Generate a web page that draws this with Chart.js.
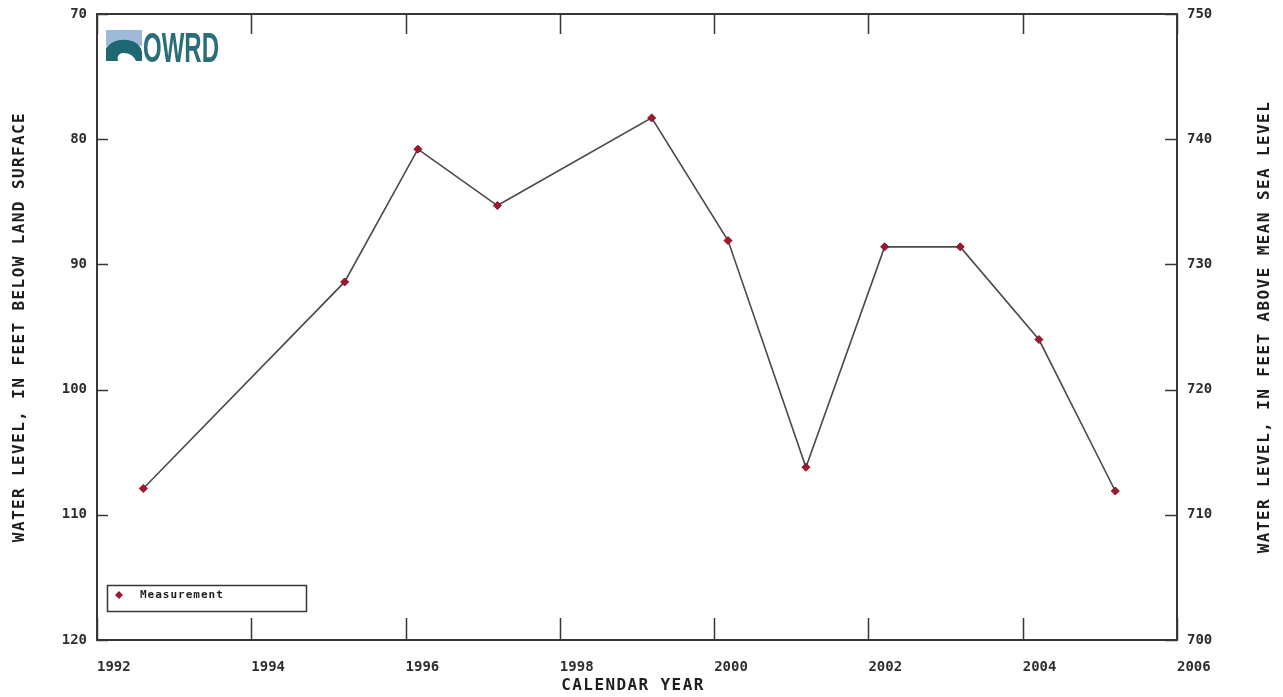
<!DOCTYPE html>
<html>
<head>
<meta charset="utf-8">
<script src="https://cdn.jsdelivr.net/npm/chart.js@4.4.1/dist/chart.umd.min.js"></script>
<style>
  html, body { margin: 0; padding: 0; background: #fff; }
  #wrap { width: 1283px; height: 697px; }
</style>
</head>
<body>
<div id="wrap"><canvas id="chart"></canvas></div>
<script>
// measurement dates (decimal year) and depth to water, feet below land surface
const years = [1992.60, 1995.21, 1996.16, 1997.19, 1999.19, 2000.18, 2001.19, 2002.21, 2003.19, 2004.21, 2005.20];
const depths = [107.9, 91.4, 80.8, 85.3, 78.3, 88.1, 106.2, 88.6, 88.6, 96.0, 108.1];

const xTitle = 'CALENDAR YEAR';
const yTitle = 'WATER LEVEL, IN FEET BELOW LAND SURFACE';
const y2Title = 'WATER LEVEL, IN FEET ABOVE MEAN SEA LEVEL';
const seriesName = 'Measurement';

const FRAME = '#3a3538';

// frame, inward ticks, axis titles, legend box and logo
const decorPlugin = {
    id: 'decor',
    afterDraw(chart) {
        const ctx = chart.ctx;
        const a = chart.chartArea;
        const sx = chart.scales.x, sy = chart.scales.y, sy2 = chart.scales.y2;
        ctx.save();
        ctx.strokeStyle = FRAME;
        ctx.lineWidth = 2;
        ctx.strokeRect(a.left, a.top, a.right - a.left, a.bottom - a.top);

        ctx.lineWidth = 1.5;
        ctx.beginPath();
        sx.ticks.forEach(t => {
            const px = Math.round(sx.getPixelForValue(t.value)) + 0.5;
            ctx.moveTo(px, a.bottom); ctx.lineTo(px, a.bottom - 22);
            ctx.moveTo(px, a.top); ctx.lineTo(px, a.top + 20);
        });
        sy.ticks.forEach(t => {
            const py = Math.round(sy.getPixelForValue(t.value)) + 0.5;
            ctx.moveTo(a.left, py); ctx.lineTo(a.left + 11, py);
        });
        sy2.ticks.forEach(t => {
            const py = Math.round(sy2.getPixelForValue(t.value)) + 0.5;
            ctx.moveTo(a.right, py); ctx.lineTo(a.right - 12, py);
        });
        ctx.stroke();

        // axis titles
        ctx.fillStyle = '#1e1e1e';
        ctx.font = 'bold 16px "DejaVu Sans Mono", monospace';
        ctx.letterSpacing = '1.4px';
        ctx.textAlign = 'center';
        ctx.textBaseline = 'middle';
        const cx = (a.left + a.right) / 2, cy = (a.top + a.bottom) / 2;
        ctx.fillText(xTitle, cx - 4, 686);
        ctx.save();
        ctx.translate(20, cy);
        ctx.rotate(-Math.PI / 2);
        ctx.fillText(yTitle, 0, 0);
        ctx.restore();
        ctx.save();
        ctx.translate(1265, cy);
        ctx.rotate(-Math.PI / 2);
        ctx.fillText(y2Title, 0, 0);
        ctx.restore();

        // legend
        ctx.letterSpacing = '1px';
        ctx.lineWidth = 1.5;
        ctx.strokeStyle = FRAME;
        ctx.strokeRect(107.5, 585.5, 199, 26);
        ctx.fillStyle = '#a3172e';
        ctx.beginPath();
        ctx.moveTo(119, 591); ctx.lineTo(123, 595); ctx.lineTo(119, 599); ctx.lineTo(115, 595);
        ctx.closePath(); ctx.fill();
        ctx.fillStyle = '#1e1e1e';
        ctx.font = 'bold 11px "DejaVu Sans Mono", monospace';
        ctx.textAlign = 'left';
        ctx.fillText(seriesName, 140, 595);

        // OWRD logo
        ctx.letterSpacing = '0px';
        ctx.fillStyle = '#9dbbd9';
        ctx.fillRect(106, 30, 36, 16);
        ctx.fillStyle = '#1f6872';
        ctx.beginPath();
        ctx.moveTo(106, 61);
        ctx.lineTo(106, 48);
        ctx.quadraticCurveTo(114, 38, 128, 40);
        ctx.quadraticCurveTo(140, 42, 142, 52);
        ctx.lineTo(142, 61);
        ctx.lineTo(136, 61);
        ctx.quadraticCurveTo(132, 52, 122, 53);
        ctx.quadraticCurveTo(116, 55, 118, 61);
        ctx.closePath();
        ctx.fill();
        ctx.fillStyle = '#2a6e7c';
        ctx.font = 'bold 42px "Liberation Sans Narrow", "Liberation Sans", sans-serif';
        ctx.textBaseline = 'alphabetic';
        ctx.fillText('OWRD', 143, 62, 76);
        ctx.restore();
    }
};

const tickFont = { family: '"DejaVu Sans Mono", monospace', size: 14, weight: 'bold' };

// pin the vertical scales so the plot frame lands where the reference has it
function fitY(width) {
    return s => {
        s.width = width;
        s.paddingTop = 14;
        s.paddingBottom = 0;
    };
}

new Chart(document.getElementById('chart'), {
    type: 'line',
    data: {
        datasets: [{
            label: seriesName,
            data: years.map((yr, i) => ({ x: yr, y: depths[i] })),
            borderColor: '#4a4a4a',
            borderWidth: 1.6,
            pointStyle: 'rectRot',
            pointRadius: 4,
            pointBackgroundColor: '#a3172e',
            pointBorderColor: '#7d1424',
            pointBorderWidth: 1,
            tension: 0,
            yAxisID: 'y'
        }]
    },
    options: {
        responsive: true,
        maintainAspectRatio: false,
        animation: false,
        layout: { padding: 0 },
        plugins: {
            legend: { display: false },
            tooltip: { enabled: false }
        },
        scales: {
            x: {
                type: 'linear',
                min: 1992, max: 2006,
                grid: { display: false, drawTicks: false },
                border: { display: false },
                ticks: {
                    stepSize: 2,
                    align: 'start',
                    padding: 19,
                    color: '#2e2e2e',
                    font: tickFont,
                    callback: v => String(v)
                },
                afterFit: s => { s.height = 57; }
            },
            y: {
                position: 'left',
                reverse: true,
                min: 70, max: 120,
                grid: { display: false, drawTicks: false },
                border: { display: false },
                ticks: {
                    stepSize: 10,
                    padding: 10,
                    color: '#2e2e2e',
                    font: tickFont
                },
                afterFit: fitY(97)
            },
            y2: {
                position: 'right',
                min: 700, max: 750,
                grid: { display: false, drawTicks: false },
                border: { display: false },
                ticks: {
                    stepSize: 10,
                    padding: 10,
                    color: '#2e2e2e',
                    font: tickFont
                },
                afterFit: fitY(106)
            }
        }
    },
    plugins: [decorPlugin]
});
</script>
</body>
</html>
